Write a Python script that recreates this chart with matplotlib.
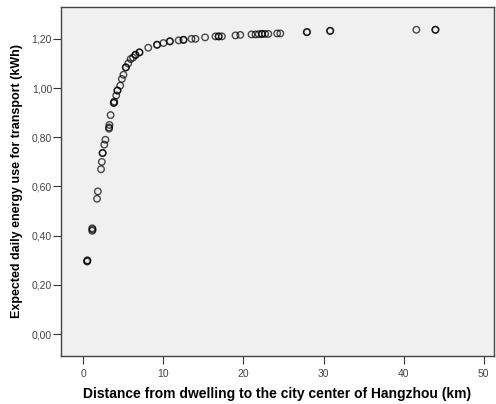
import matplotlib
matplotlib.use('Agg')
import matplotlib.pyplot as plt
from matplotlib.ticker import FuncFormatter

plt.rcParams['font.family'] = ['Liberation Sans', 'DejaVu Sans']

# distance to the city center (km) and expected energy use (kWh)
# repeated points are cases drawn on top of each other (darker rings)
distance = [0.46, 0.5, 1.1, 1.15, 1.1, 1.7, 1.8, 2.2, 2.3, 2.4, 2.6, 2.75,
            3.2, 3.25, 3.2, 3.4, 3.8, 3.85, 4.1, 4.25, 4.6, 4.8, 5.0, 5.3,
            5.6, 5.9, 6.2, 6.5, 7.0, 8.1, 9.2, 10.0, 10.8, 11.9, 12.5, 13.5,
            14.0, 15.2, 16.5, 16.9, 17.3, 19.0, 19.6, 21.0, 21.5, 21.9, 22.3,
            22.7, 23.1, 24.2, 24.6, 27.9, 27.95, 30.8, 30.85, 41.6, 43.96, 44.0,
            0.48, 2.4, 3.8, 4.25, 5.3, 6.5, 7.0, 9.2, 10.8, 12.5, 16.9, 22.3]
energy = [0.295, 0.30, 0.42, 0.425, 0.43, 0.55, 0.58, 0.67, 0.70, 0.736, 0.77, 0.79,
          0.84, 0.85, 0.835, 0.89, 0.94, 0.945, 0.97, 0.99, 1.01, 1.037, 1.054, 1.084,
          1.10, 1.118, 1.124, 1.135, 1.145, 1.164, 1.176, 1.183, 1.19, 1.194, 1.196, 1.20,
          1.20, 1.206, 1.21, 1.21, 1.21, 1.214, 1.216, 1.218, 1.218, 1.219, 1.22,
          1.22, 1.22, 1.222, 1.222, 1.227, 1.228, 1.232, 1.233, 1.237, 1.237, 1.237,
          0.298, 0.736, 0.94, 0.99, 1.084, 1.135, 1.145, 1.176, 1.19, 1.196, 1.21, 1.22]

x_ticks = [0, 10, 20, 30, 40, 50]
y_ticks = [0.0, 0.2, 0.4, 0.6, 0.8, 1.0, 1.2]


def comma_fmt(v, pos):
    return f'{v:.2f}'.replace('.', ',')


fig = plt.figure(figsize=(4.96, 4.04), dpi=100)
ax = fig.add_axes([0.123, 0.12, 0.873, 0.863])
ax.set_facecolor('#f0f0f0')

ax.scatter(distance, energy, s=22, facecolors='none', edgecolors='black',
           linewidths=1.0, alpha=0.7, zorder=3)

ax.set_xlim(-2.8, 51.3)
ax.set_ylim(-0.087, 1.33)
ax.set_xticks(x_ticks)
ax.set_yticks(y_ticks)
ax.yaxis.set_major_formatter(FuncFormatter(comma_fmt))
ax.tick_params(axis='both', direction='out', length=5.5, width=0.8,
               labelsize=7.5, colors='#333333', labelcolor='#444444')
ax.tick_params(axis='y', pad=1)
ax.tick_params(axis='x', pad=4)

for s in ax.spines.values():
    s.set_color('#444444')
    s.set_linewidth(1.0)

ax.set_xlabel('Distance from dwelling to the city center of Hangzhou (km)',
              fontsize=10, fontweight='bold', labelpad=6)
ax.set_ylabel('Expected daily energy use for transport (kWh)',
              fontsize=9, fontweight='bold', labelpad=6)

plt.savefig('out.png', dpi=100)
